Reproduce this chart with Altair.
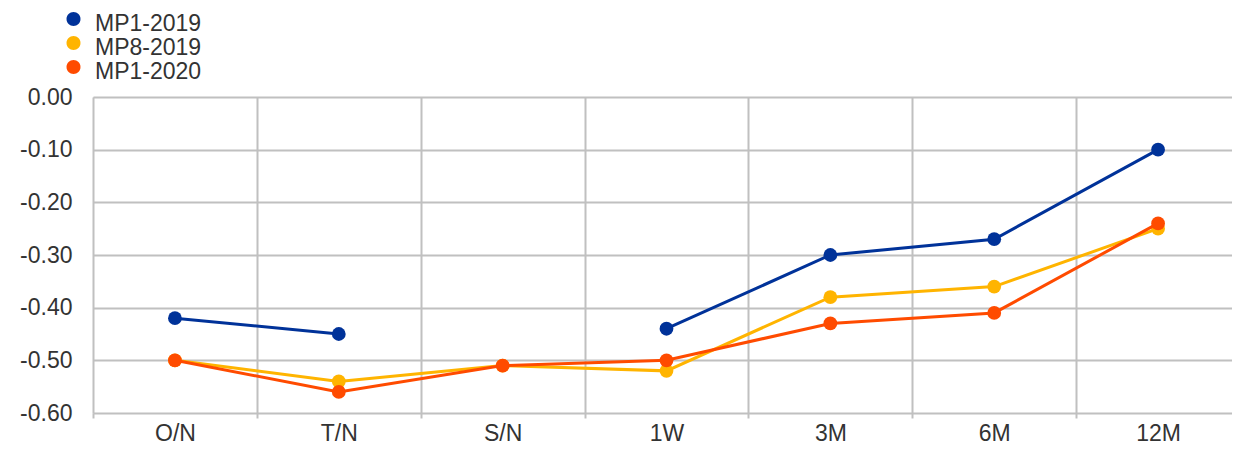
import altair as alt
import pandas as pd

categories = ["O/N", "T/N", "S/N", "1W", "3M", "6M", "12M"]
series_names = ["MP1-2019", "MP8-2019", "MP1-2020"]
series_colors = ["#003299", "#FFB400", "#FF4B00"]
mp1_2019 = [-0.42, -0.45, None, -0.44, -0.30, -0.27, -0.10]
mp8_2019 = [-0.50, -0.54, -0.51, -0.52, -0.38, -0.36, -0.25]
mp1_2020 = [-0.50, -0.56, -0.51, -0.50, -0.43, -0.41, -0.24]
y_ticks = [0.0, -0.1, -0.2, -0.3, -0.4, -0.5, -0.6]

rows = []
for name, vals in zip(series_names, [mp1_2019, mp8_2019, mp1_2020]):
    for c, v in zip(categories, vals):
        rows.append({"tenor": c, "series": name, "value": v})
df = pd.DataFrame(rows)

FONT = "Liberation Sans"
TXT = "#333333"
GRID = "#c0c0c0"
# circle symbol drawn slightly above the legend row centre
LEGEND_DOT = "M-1,-0.66A1,1,0,1,1,1,-0.66A1,1,0,1,1,-1,-0.66Z"

x_enc = alt.X(
    "tenor:N",
    sort=categories,
    scale=alt.Scale(type="band", paddingInner=0, paddingOuter=0),
    axis=alt.Axis(
        title=None, labelAngle=0, tickBand="extent", grid=True,
        gridColor=GRID, gridWidth=2, domain=False, ticks=True,
        tickColor=GRID, tickWidth=2, tickSize=5, labelPadding=27,
        labelBaseline="bottom",
        labelFont=FONT, labelFontSize=23, labelColor=TXT,
    ),
)
y_enc = alt.Y(
    "value:Q",
    scale=alt.Scale(domain=[-0.6, 0], nice=False, zero=False),
    axis=alt.Axis(
        title=None, values=y_ticks,
        labelExpr="replace(format(datum.value, '.2f'), '\u2212', '-')",
        grid=True, gridColor=GRID, gridWidth=2, domain=False, ticks=False,
        tickSize=0, labelPadding=21, labelFont=FONT, labelFontSize=23,
        labelColor=TXT,
    ),
)
color_enc = alt.Color(
    "series:N",
    scale=alt.Scale(domain=series_names, range=series_colors),
    legend=alt.Legend(
        title=None, orient="none", legendX=-31, legendY=-85,
        direction="vertical", symbolType=LEGEND_DOT, symbolSize=196,
        symbolStrokeWidth=0, labelFont=FONT, labelFontSize=23,
        labelColor=TXT, rowPadding=-8, labelOffset=10,
    ),
)

layers = []
for name, col in zip(series_names, series_colors):
    sub = alt.Chart(df).transform_filter(alt.datum.series == name)
    layers.append(
        sub.mark_line(color=col, strokeWidth=3,
                      invalid="break-paths-show-domains").encode(x=x_enc, y=y_enc)
    )
    layers.append(
        sub.mark_circle(size=190, opacity=1).encode(x=x_enc, y=y_enc, color=color_enc)
    )

chart = (
    alt.layer(*layers)
    .properties(width=1147, height=316,
                autosize=alt.AutoSizeParams(type="none"),
                padding={"left": 85, "top": 89, "right": -8, "bottom": 33})
    .configure_view(strokeWidth=0)
    .configure(background="white")
)

chart.save("out.html", embed_options={"renderer": "svg", "actions": False})
